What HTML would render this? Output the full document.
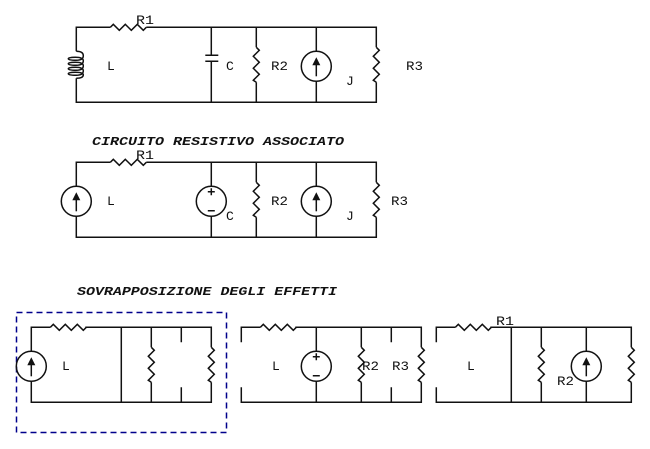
<!DOCTYPE html>
<html><head><meta charset="utf-8"><style>
html,body{margin:0;padding:0;background:#fff;width:650px;height:449px;overflow:hidden}
svg{display:block}
.w{fill:none;stroke:#111;stroke-width:1.5}
text{font-family:"Liberation Mono",monospace;font-size:13px;fill:#111}
.t{font-weight:bold;font-style:italic;font-size:11.5px}
</style></head><body>
<svg width="650" height="449" viewBox="0 0 650 449" xmlns="http://www.w3.org/2000/svg">
<defs>
<path id="rh" class="w" d="M0 0l3-3 6 6 6-6 6 6 6-6 6 6 3-3"/>
<path id="rv" class="w" d="M0 0l3 3-6 6 6 6-6 6 6 6-6 6 3 2"/>
<g id="cs"><circle class="w" r="15"/><path class="w" d="M0 10V-4"/><path d="M0-9l4 8h-8z" fill="#111"/></g>
<g id="vs"><circle class="w" r="15"/><path class="w" d="M-3.500-9.500h7M0-13v7M-3.500 9.500h7"/></g>
</defs>
<g transform="translate(.3 .3)">
<!-- circuit 1 -->
<path class="w" d="M76 51V27h34M146 27H376V47M376 82V102H76V78M211 27V55M211 61V102M205 55h13M205 61h13M256 27V47M256 82V102M316 27V51M316 81V102"/>
<use href="#rh" x="110" y="27"/>
<use href="#rv" x="256" y="47"/>
<use href="#rv" x="376" y="47"/>
<use href="#cs" x="316" y="66"/>
<path class="w" d="M76 51Q83 51 83 55.500Q83 60 76 60Q68 60 68 58.500Q68 57 75 57Q83 57 83 60.500Q83 65 76 65Q68 65 68 63.500Q68 62 75 62Q83 62 83 65.500Q83 70 76 70Q68 70 68 68.500Q68 67 75 67Q83 67 83 70.500Q83 75 76 75Q68 75 68 73.500Q68 72 75 72Q83 72 83 74.500Q83 78 76 78"/>
<!-- circuit 2 -->
<path class="w" d="M76 186V162h34M146 162H376V182M376 217V237H76V216M211 162V186M211 216V237M256 162V182M256 217V237M316 162V186M316 216V237"/>
<use href="#rh" x="110" y="162"/>
<use href="#rv" x="256" y="182"/>
<use href="#rv" x="376" y="182"/>
<use href="#cs" x="76" y="201"/>
<use href="#vs" x="211" y="201"/>
<use href="#cs" x="316" y="201"/>
<!-- circuit 3 -->
<rect x="16.200" y="312.200" width="210" height="120" fill="none" stroke="#00008b" stroke-width="1.5" stroke-dasharray="6 4"/>
<path class="w" d="M31 351V327h19M85 327H211V347M211 382V402H31V381M121 327V402M151 327V347M151 382V402M181 327V342M181 387V402"/>
<use href="#rh" x="50" y="327"/>
<use href="#rv" x="151" y="347"/>
<use href="#rv" x="211" y="347"/>
<use href="#cs" x="31" y="366"/>
<!-- circuit 4 -->
<path class="w" d="M241 342V327h19M295 327H421V347M421 382V402H241V387M316 327V351M316 381V402M361 327V347M361 382V402M391 327V342M391 387V402"/>
<use href="#rh" x="260" y="327"/>
<use href="#rv" x="361" y="347"/>
<use href="#rv" x="421" y="347"/>
<use href="#vs" x="316" y="366"/>
<!-- circuit 5 -->
<path class="w" d="M436 342V327h19M490 327H631V347M631 382V402H436V387M511 327V402M541 327V347M541 382V402M586 327V351M586 381V402"/>
<use href="#rh" x="455" y="327"/>
<use href="#rv" x="541" y="347"/>
<use href="#rv" x="631" y="347"/>
<use href="#cs" x="586" y="366"/>
</g>
<g>
<text x="136" y="24" textLength="18" lengthAdjust="spacingAndGlyphs">R1</text>
<text x="107" y="70">L</text>
<text x="226" y="70">C</text>
<text x="271" y="70" textLength="17" lengthAdjust="spacingAndGlyphs">R2</text>
<text x="346" y="85">J</text>
<text x="406" y="70" textLength="17" lengthAdjust="spacingAndGlyphs">R3</text>
<text class="t" x="92" y="145" textLength="252" lengthAdjust="spacingAndGlyphs">CIRCUITO RESISTIVO ASSOCIATO</text>
<text x="136" y="159" textLength="18" lengthAdjust="spacingAndGlyphs">R1</text>
<text x="107" y="205">L</text>
<text x="226" y="220">C</text>
<text x="271" y="205" textLength="17" lengthAdjust="spacingAndGlyphs">R2</text>
<text x="346" y="220">J</text>
<text x="391" y="205" textLength="17" lengthAdjust="spacingAndGlyphs">R3</text>
<text class="t" x="77" y="295" textLength="260" lengthAdjust="spacingAndGlyphs">SOVRAPPOSIZIONE DEGLI EFFETTI</text>
<text x="62" y="370">L</text>
<text x="272" y="370">L</text>
<text x="362" y="370" textLength="17" lengthAdjust="spacingAndGlyphs">R2</text>
<text x="392" y="370" textLength="17" lengthAdjust="spacingAndGlyphs">R3</text>
<text x="496" y="325" textLength="18" lengthAdjust="spacingAndGlyphs">R1</text>
<text x="467" y="370">L</text>
<text x="557" y="385" textLength="17" lengthAdjust="spacingAndGlyphs">R2</text>
</g>
</svg>
</body></html>
